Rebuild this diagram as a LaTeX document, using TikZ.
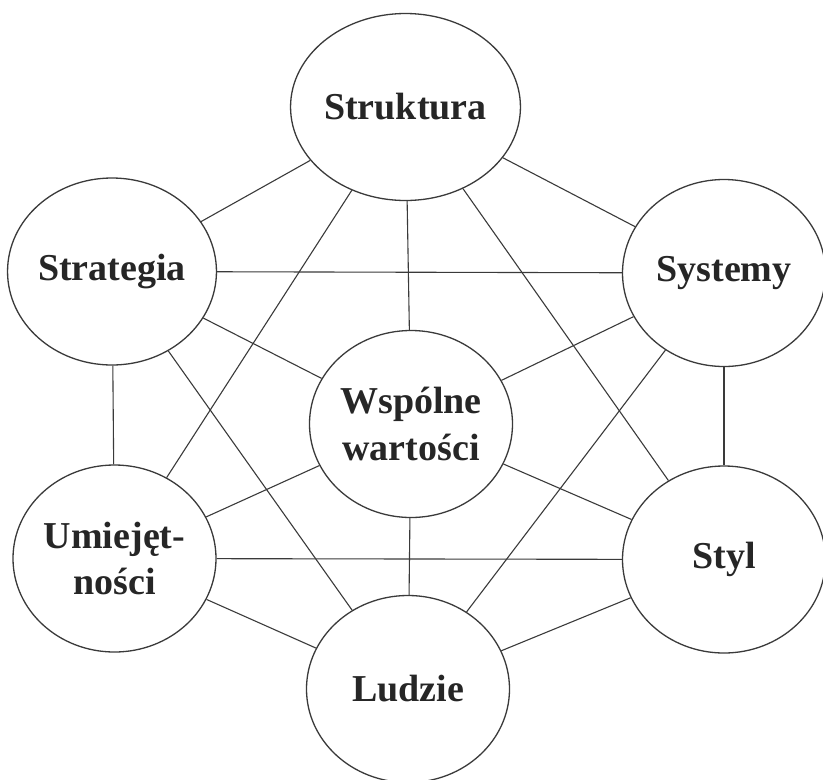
\documentclass[tikz,border=0pt]{standalone}
\usepackage{fontspec}
\setmainfont{Liberation Serif}
\usetikzlibrary{shapes.geometric}
\definecolor{ink}{HTML}{262626}
\definecolor{edge}{HTML}{3A3A3A}
\begin{document}
\begin{tikzpicture}[x=1pt,y=-1pt,
  sbox/.style={ellipse,draw=edge,line width=1.3pt,fill=white,
    minimum width=203pt,minimum height=187pt,inner sep=0pt,
    align=center,text=ink,font=\bfseries\fontsize{38}{46.5}\selectfont},
  link/.style={draw=edge,line width=1.1pt}]
\useasboundingbox (0,0) rectangle (823,780);
\node[sbox] (str) at (405.5,107) {Struktura};
\node[sbox] (stg) at (112,271.5) {Strategia};
\node[sbox] (sys) at (724,273) {Systemy};
\node[sbox] (wsp) at (411,424) {Wspólne\\wartości};
\node[sbox] (umi) at (114.5,558.5) {Umiejęt-\\ności};
\node[sbox] (sty) at (724,559.5) {Styl};
\node[sbox] (lud) at (408,689) {Ludzie};
\draw[link] (str) -- (stg);
\draw[link] (str) -- (sys);
\draw[link] (str) -- (wsp);
\draw[link] (str) -- (umi);
\draw[link] (str) -- (sty);
\draw[link] (stg) -- (sys);
\draw[link] (stg) -- (wsp);
\draw[link] (stg) -- (umi);
\draw[link] (stg) -- (lud);
\draw[link] (sys) -- (wsp);
\draw[link] (sys) -- (sty);
\draw[link] (sys) -- (lud);
\draw[link] (wsp) -- (umi);
\draw[link] (wsp) -- (sty);
\draw[link] (wsp) -- (lud);
\draw[link] (umi) -- (sty);
\draw[link] (umi) -- (lud);
\draw[link] (sty) -- (lud);
\end{tikzpicture}
\end{document}
